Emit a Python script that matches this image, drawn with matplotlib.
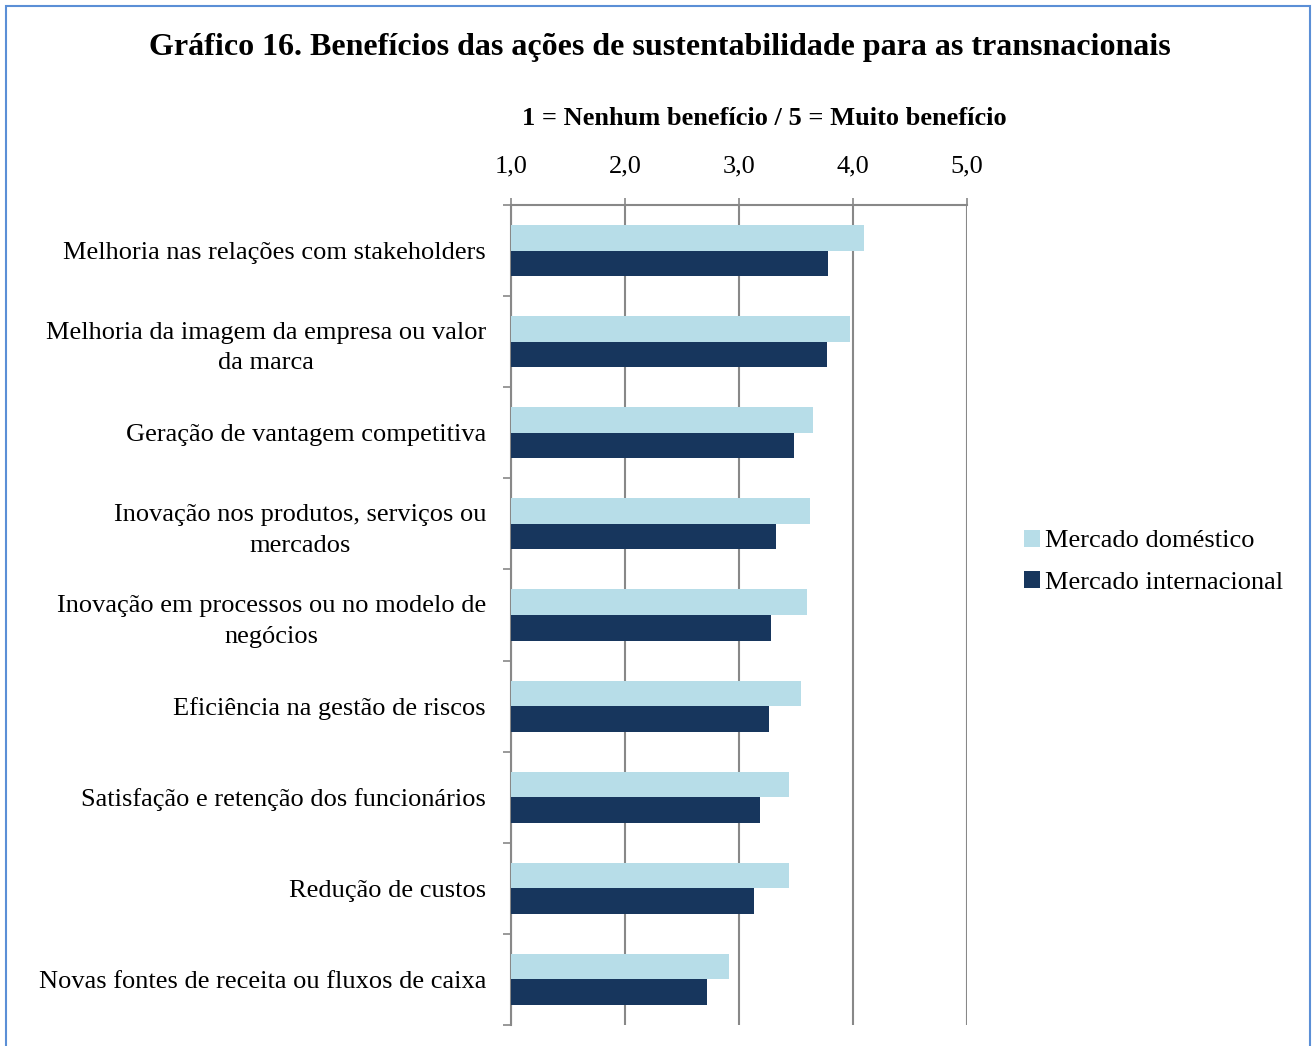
import numpy as np
import matplotlib
matplotlib.use("Agg")
import matplotlib.pyplot as plt
from matplotlib.patches import Rectangle

plt.rcParams["font.family"] = ["Liberation Serif", "DejaVu Serif"]

# ── 数据 ────────────────────────────────────────────────────────────────
categories = [
    "Melhoria nas relações com stakeholders",
    "Melhoria da imagem da empresa ou valor\nda marca",
    "Geração de vantagem competitiva",
    "Inovação nos produtos, serviços ou\nmercados",
    "Inovação em processos ou no modelo de\nnegócios",
    "Eficiência na gestão de riscos",
    "Satisfação e retenção dos funcionários",
    "Redução de custos",
    "Novas fontes de receita ou fluxos de caixa",
]
domestico = [4.10, 3.97, 3.65, 3.62, 3.60, 3.54, 3.44, 3.44, 2.91]
internacional = [3.78, 3.77, 3.48, 3.32, 3.28, 3.26, 3.18, 3.13, 2.72]
xticks = [1.0, 2.0, 3.0, 4.0, 5.0]
xtick_labels = ["1,0", "2,0", "3,0", "4,0", "5,0"]

c_dom = "#b7dde8"
c_int = "#17365d"

fig = plt.figure(figsize=(13.15, 10.46), dpi=100)
ax = fig.add_axes([0.3886, 0.0201, 0.3468, 0.7839])

n = len(categories)
y = np.arange(n)
h = 0.28
ax.barh(y - h / 2, np.array(domestico) - 1, left=1, height=h, color=c_dom,
        label="Mercado doméstico", zorder=3)
ax.barh(y + h / 2, np.array(internacional) - 1, left=1, height=h, color=c_int,
        label="Mercado internacional", zorder=3)

ax.set_ylim(n - 0.5, -0.5)
ax.set_xlim(1, 5)

# 顶部 x 轴
ax.xaxis.tick_top()
ax.set_xticks(xticks)
ax.set_xticklabels(xtick_labels, fontsize=19)
ax.tick_params(axis="x", length=5, width=1.2, color="#888888", pad=15)
ax.grid(axis="x", color="#888888", linewidth=1.5, zorder=0)

# y 轴：类别分隔小刻度
ax.set_yticks(y)
ax.set_yticklabels(categories, fontsize=19, linespacing=1.48, multialignment="center")
ax.tick_params(axis="y", length=0, pad=18)
ax.set_yticks(np.arange(n + 1) - 0.5, minor=True)
ax.tick_params(axis="y", which="minor", length=6, width=1.2, color="#888888")

for s in ["right", "bottom"]:
    ax.spines[s].set_visible(False)
ax.spines["top"].set_color("#888888")
ax.spines["top"].set_linewidth(1.5)
ax.spines["left"].set_color("#888888")
ax.spines["left"].set_linewidth(1.5)

# 标题
fig.text(0.5015, 0.955, "Gráfico 16. Benefícios das ações de sustentabilidade para as transnacionais",
         ha="center", va="center", fontsize=23, fontweight="bold")
fig.text(0.5815, 0.887, "1 = Nenhum benefício / 5 = Muito benefício",
         ha="center", va="center", fontsize=19, fontweight="bold")

ax.legend(loc="center left", bbox_to_anchor=(1.125, 0.565), frameon=False,
          fontsize=19, handlelength=0.6, handleheight=0.6, handletextpad=0.2,
          labelspacing=0.7, borderaxespad=0, borderpad=0)

# 外框
fig.patches.append(Rectangle((0.0046, -0.01), 0.9917, 1.0043, transform=fig.transFigure,
                             fill=False, edgecolor="#5b8fd6", linewidth=1.5))

fig.savefig("out.png", dpi=100)
